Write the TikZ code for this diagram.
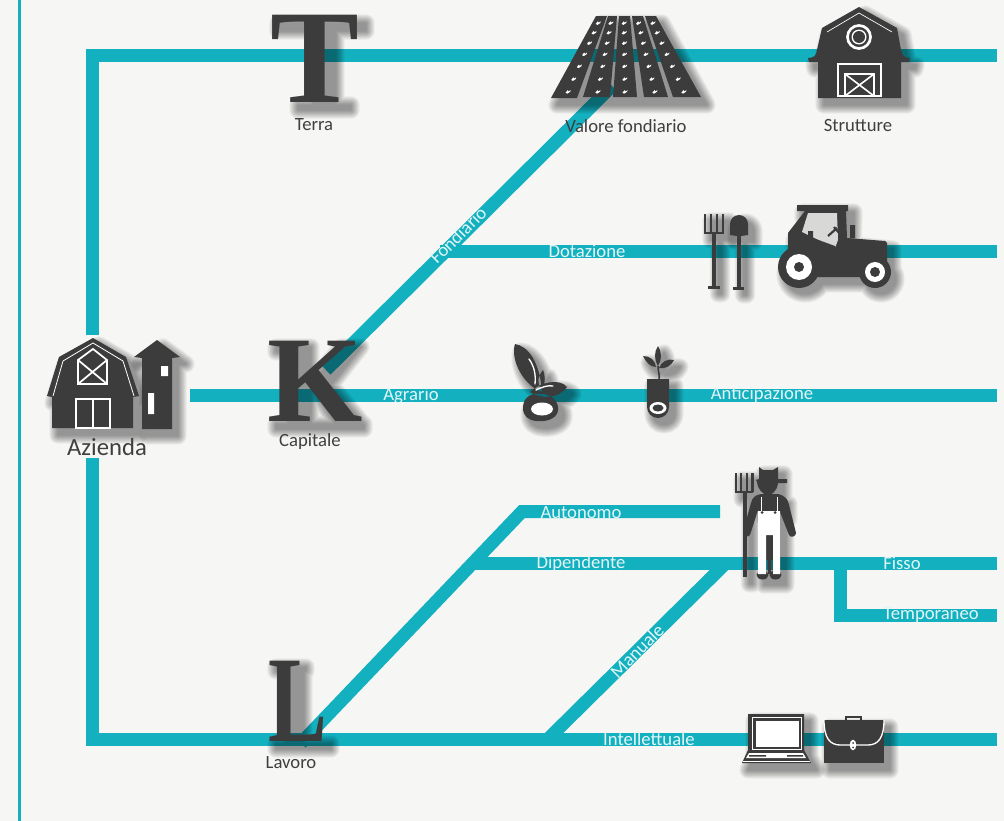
\documentclass[tikz,border=0pt]{standalone}
\usepackage{fontspec}
\setmainfont{Carlito}
\newfontfamily\letterfont{Liberation Serif}
\definecolor{tealc}{HTML}{13B1C0}
\definecolor{iconc}{HTML}{3C3C3C}
\definecolor{bgc}{HTML}{F6F6F4}
\definecolor{labelc}{HTML}{3F3F3F}
\definecolor{onlinec}{HTML}{E4F6F8}
\newcommand{\softshadow}[1]{%
  \foreach \w in {13,11.5,10,8.5,7,5.5,4,2.5,1}{\begin{scope}[transparency group,opacity=.05]\path[shift={(6,7)},draw=black,fill=black,line width=\w pt,line join=round] #1;\end{scope}}}
\newcommand{\shadowed}[1]{\softshadow{#1}\fill[iconc] #1;}
\tikzset{
  route/.style={draw=tealc,line width=9.75pt,line join=miter,line cap=butt},
  rulebar/.style={draw=tealc,line width=2.25pt},
  cap label/.style={font=\fontsize{14}{16}\selectfont,text=labelc,inner sep=0pt},
  line label/.style={font=\fontsize{14}{16}\selectfont,text=onlinec,inner sep=0pt},
  big letter/.style={font=\letterfont\bfseries\fontsize{#1}{#1}\selectfont,text=iconc,inner sep=0pt},
  whitel/.style={draw=white,line width=1.2pt},
  darkl/.style={draw=iconc,line width=1.6pt},
}
\begin{document}
\begin{tikzpicture}[x=0.75pt,y=-0.75pt]
\useasboundingbox (0,0) rectangle (1004,821);
\fill[bgc] (0,0) rectangle (1004,821);
\coordinate (ruleT) at (19,0); \coordinate (ruleB) at (19,821);
\draw[rulebar] (ruleT) -- (ruleB);
% junctions
\coordinate (topL) at (92.5,55); \coordinate (topR) at (997,55);
\coordinate (botL) at (92.5,739.5); \coordinate (botR) at (997,739.5);
\coordinate (azT) at (92.5,335); \coordinate (azB) at (92.5,458);
\coordinate (agL) at (190,395.5); \coordinate (agR) at (997,395.5);
\coordinate (kD) at (326,370); \coordinate (vfD) at (612,86);
\coordinate (dotL) at (440,251.5); \coordinate (dotR) at (997,251.5);
\coordinate (lD) at (301,743); \coordinate (auC) at (522,511.5); \coordinate (auR) at (720,511.5);
\coordinate (dipL) at (470,563.5); \coordinate (dipR) at (997,563.5);
\coordinate (fiC) at (840,563.5); \coordinate (teC) at (840,615.5); \coordinate (teR) at (997,615.5);
\coordinate (maB) at (548,739); \coordinate (maT) at (726,563);
% connectors
\draw[route] (azT) -- (topL) -- (topR);
\draw[route] (azB) -- (botL) -- (botR);
\draw[route] (agL) -- (agR);
\draw[route] (kD) -- (vfD);
\draw[route] (dotL) -- (dotR);
\draw[route] (lD) -- (auC) -- (auR);
\draw[route] (dipL) -- (dipR);
\draw[route] (fiC) -- (teC) -- (teR);
\draw[route] (maB) -- (maT);
% letter shadows
\softshadow{(272,16) rectangle (360,24) (307,16) rectangle (330,103) (292,98) rectangle (345,103)}
\softshadow{(270,340) rectangle (302,345) (282,340) rectangle (305,422) (270,417) rectangle (358,422) (305,378) -- (335,340) -- (355,340) -- (325,378) -- (358,418) -- (330,418) -- cycle}
\softshadow{(270,660) rectangle (300,664) (279,660) rectangle (298,742) (270,737) rectangle (325,742)}
\node[big letter=100] (T) at (315,59) {T};
\node[big letter=92] (K) at (315,381) {K};
\node[big letter=92] (L) at (298,701) {\scalebox{.72}[1]{L}};
% Valore fondiario field
\softshadow{(596,16) -- (656,16) -- (701,98) -- (551,98) -- cycle}
\fill[iconc] (596,16) -- (607,16) -- (577,98) -- (551,98) -- cycle;
\fill[iconc] (608,16) -- (617,16) -- (610,97) -- (583,97) -- cycle;
\fill[iconc] (619,16) -- (630,16) -- (637,97) -- (613,97) -- cycle;
\fill[iconc] (632,16) -- (643,16) -- (668,97) -- (644,97) -- cycle;
\fill[iconc] (645,16) -- (656,16) -- (701,97) -- (673,97) -- cycle;
\foreach \xa/\xb in {601/566,612/597,624/625,637/656,650/686}{
  \foreach \t in {.08,.2,.33,.47,.62,.78,.94}{
    \fill[white] ({\xa+(\xb-\xa)*\t-2.5},{16+80*\t+1.5}) -- ++(2.2,-2.6) -- ++(.8,1.4) -- ++(2,-1.4) -- ++(-.3,1.6) -- ++(-3,2) -- cycle;
  }
}
\node[cap label] (vf) at (626,126) {Valore fondiario};
% Strutture barn
\shadowed{(859,7) -- (897,28) -- (901,50) .. controls (902,56) and (905,58) .. (910,58) -- (909,62) -- (901,62) -- (901,98) -- (818,98) -- (818,62) -- (809,62) -- (808,58) .. controls (814,58) and (816,56) .. (817,50) -- (822,28) -- cycle}
\draw[white,line width=.5pt] (827,32) -- (859,13) -- (892,32);
\draw[whitel,line width=2pt] (859,37) circle (11.5);
\fill[white] (859,37) circle (7.5); \fill[iconc] (859,37) circle (6);
\draw[white,line width=1.5pt] (838,64) rectangle (881,96);
\draw[white,line width=1.2pt] (845,74) rectangle (874,96) (845,74) -- (874,96) (874,74) -- (845,96);
\node[cap label] (st) at (858,126) {Strutture};
% tools
\softshadow{(705,214) rectangle (723,233) (712.5,233) rectangle (715.5,287)}
\softshadow{(730,224) arc (180:360:9) -- (748,235) -- (730,235) -- cycle (737.5,235) rectangle (740.5,288)}
\draw[darkl] (705,214) -- (705,233) -- (723,233) -- (723,214) (711,214) -- (711,233) (717,214) -- (717,233);
\draw[iconc,line width=2.4pt] (714,233) -- (714,287);
\draw[iconc,line width=2pt] (708,287.5) -- (720,287.5);
\fill[iconc] (730,224) arc (180:360:9) -- (748,235) -- (741,236) -- (737,236) -- (730,235) -- cycle;
\draw[iconc,line width=2.4pt] (739,235) -- (739,288);
\draw[iconc,line width=2pt] (733,288.5) -- (744,288.5);
% tractor
\softshadow{(797,205) -- (848,205) -- (848,211) -- (847,238) -- (887,242) -- (887,267) -- (875,277) -- (799,277) -- (788,270) -- (788,233) -- (805,211) -- (797,211) -- cycle (799,267) circle (20) (875,272) circle (15)}
\fill[iconc] (797,205) -- (848,205) -- (848,211) -- (846,211) -- (847,238) -- (885,241) -- (887,243) -- (887,267) -- (875,277) -- (799,277) -- (788,270) -- (788,233) -- (805,211) -- (797,211) -- cycle;
\fill[bgc!88!black] (808,213) -- (837,213) -- (838,240) -- (835,248) -- (802,232) -- cycle;
\fill[iconc] (808,231) rectangle (813,240) (850,225) rectangle (855,238);
\draw[iconc,line width=1.6pt] (828,236) -- (837,228) (834,227) -- (840,234);
\fill[iconc] (802,234) -- (835,246) -- (840,254) -- (810,254) -- cycle;
\fill[iconc] (799,267) circle (21); \fill[white] (799,267) circle (13); \fill[iconc] (799,267) circle (5);
\fill[iconc] (875,272) circle (16); \fill[white] (875,272) circle (10); \fill[iconc] (875,272) circle (5);
% Azienda barn
\shadowed{(93,338) -- (126,357) -- (139,396) -- (133,397) -- (133,428) -- (52,428) -- (52,397) -- (47,396) -- (59,357) -- cycle}
\draw[white,line width=.6pt] (53,396) -- (63,361) -- (93,343) -- (123,361) -- (134,396);
\draw[white,line width=1.3pt] (78,360) -- (93,349) -- (107,360) -- (107,384) -- (78,384) -- cycle (78,360) -- (107,384) (107,360) -- (78,384);
\draw[white,line width=1.3pt] (76,399) rectangle (110,428) (93,399) -- (93,428);
\shadowed{(142,358) -- (134,357) -- (157,340) -- (180,357) -- (172,358) -- (172,429) -- (142,429) -- cycle}
\fill[white] (161,366) rectangle (168,376) (148,393) rectangle (154,414);
\node[font=\fontsize{18.5}{20}\selectfont,text=labelc,inner sep=0pt] (az) at (107,447) {Azienda};
% olive
\shadowed{(515,344) .. controls (528,346) and (540,362) .. (542,392) .. controls (524,386) and (510,360) .. (515,344) -- cycle (542,390) .. controls (546,382) and (545,374) .. (543,370) .. controls (538,376) and (536,384) .. (542,390) -- cycle (567,387) .. controls (560,378) and (540,382) .. (530,392) .. controls (542,400) and (560,398) .. (567,387) -- cycle (523,408) .. controls (523,398) and (530,392) .. (544,394) .. controls (554,396) and (559,403) .. (558,411) .. controls (556,420) and (544,422) .. (536,421) .. controls (528,420) and (523,416) .. (523,408) -- cycle}
\fill[white] (542,409) ellipse (11 and 6.5);
\draw[white,line width=1pt,line cap=round] (529,359) .. controls (534,366) and (536,374) .. (535,384);
\draw[white,line width=1pt,line cap=round] (536,390) .. controls (542,387) and (548,385) .. (553,386);
\draw[iconc,line width=1.4pt] (525,401) .. controls (530,398) and (538,398) .. (546,401);
% seedling
\shadowed{(647,379) -- (669,379) -- (669,407) arc (0:180:11 and 11) -- cycle (658,346) .. controls (662,352) and (662,360) .. (658,366) .. controls (654,360) and (654,352) .. (658,346) -- cycle (643,356) .. controls (650,356) and (655,360) .. (656,367) .. controls (650,367) and (646,362) .. (643,356) -- cycle (674,360) .. controls (668,358) and (661,362) .. (659,368) .. controls (666,369) and (671,366) .. (674,360) -- cycle}
\draw[iconc,line width=1.2pt] (658,366) .. controls (658,372) and (660,375) .. (659,380);
\fill[white] (658,408) ellipse (8.5 and 6);
\fill[iconc] (658,408) ellipse (5.5 and 3.5);
% farmer
\softshadow{(736,473) rectangle (753,492) (743.5,473) rectangle (746.5,577) (753,497) rectangle (783,512) (758,467) rectangle (778,495) (758,512) rectangle (780,578)}
\draw[darkl] (736,473) -- (736,492) -- (753,492) (741,473) -- (741,492) (747,473) -- (747,492) (752.5,473) -- (752.5,492);
\draw[iconc,line width=3pt] (745,492) -- (745,577);
\fill[iconc] (759,467) -- (763,470) -- (773,470) -- (778,467) -- (778,479) -- (787,479) -- (787,483) -- (778,483) .. controls (777,492) and (771,495) .. (768,495) .. controls (763,495) and (758,490) .. (757,482) -- (756,480) -- (759,479) -- cycle;
\fill[iconc] (761,494) -- (778,494) .. controls (786,496) and (788,500) .. (789,505) -- (796,533) .. controls (796,537) and (790,538) .. (789,535) -- (780,512) -- (780,560) -- (758,560) -- (758,510) -- (750,535) .. controls (748,538) and (742,536) .. (743,532) -- (751,503) .. controls (752,498) and (755,495) .. (761,494) -- cycle;
\fill[iconc] (762.5,575) ellipse (6 and 4.5) (775.5,575) ellipse (6 and 4.5);
\fill[white] (758,511) -- (780,511) -- (780,574) -- (773,574) -- (773,535) -- (766,535) -- (766,574) -- (758,574) -- cycle;
\fill[iconc] (762,512.5) circle (1.5) (775,512.5) circle (1.5);
\draw[white,line width=.5pt] (761,497) -- (761,511) (777,497) -- (777,511);
\fill[iconc] (768,536) rectangle (771,574);
% laptop
\shadowed{(748,714) -- (804,714) -- (804,750) -- (811,763) -- (742,763) -- (748,750) -- cycle}
\draw[white,line width=.7pt] (752,717) rectangle (801,749);
\fill[white] (756,721) rectangle (799,747);
\fill[white] (749,753) -- (803,753) -- (806,758) -- (746,758) -- cycle;
\fill[iconc] (749,755) rectangle (766,756.5) (787,755) rectangle (803,756.5);
\draw[white,line width=.6pt] (743,761) -- (810,761);
% briefcase
\draw[iconc,line width=2pt] (846,720) -- (846,717) -- (861,717) -- (861,720);
\shadowed{(824,720) rectangle (884,763)}
\draw[white,line width=1pt] (824,720) .. controls (824,738) and (830,745) .. (840,745) -- (868,745) .. controls (878,745) and (884,738) .. (884,720);
\fill[white] (853,745) ellipse (3.3 and 5.3);
\fill[iconc] (853,743) circle (1) (853,747.5) circle (1);
% labels
\node[cap label] (te) at (314,125) {Terra};
\node[cap label] (ca) at (310,442) {Capitale};
\node[cap label] (la) at (291,763) {Lavoro};
\node[line label,rotate=45] (fo) at (458,235) {Fondiario};
\node[line label] (do) at (587,251) {Dotazione};
\node[line label] (ag) at (411,396) {Agrario};
\node[line label] (an) at (762,395) {Anticipazione};
\node[line label] (au) at (581,513) {Autonomo};
\node[line label] (di) at (581,564) {Dipendente};
\node[line label] (fi) at (902,563) {Fisso};
\node[line label] (tp) at (931,615) {Temporaneo};
\node[line label,rotate=45] (ma) at (637,651) {Manuale};
\node[line label] (in) at (649,739) {Intellettuale};
\end{tikzpicture}
\end{document}
